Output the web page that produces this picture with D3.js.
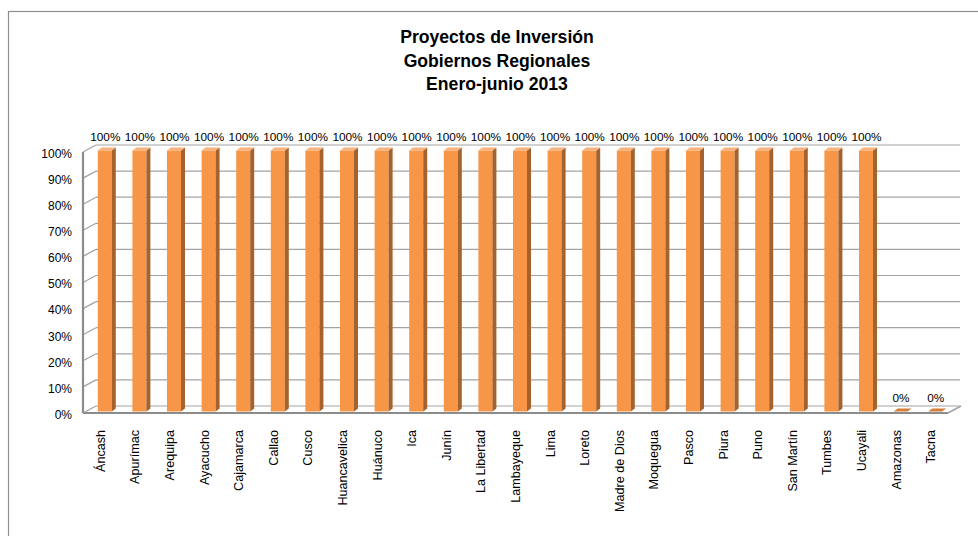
<!DOCTYPE html>
<html>
<head>
<meta charset="utf-8">
<script src="https://cdn.jsdelivr.net/npm/d3@7"></script>
<style>
  html, body { margin: 0; padding: 0; background: #fff; }
  svg { display: block; font-family: "Liberation Sans", Arial, sans-serif; }
</style>
</head>
<body>
<div id="chart"></div>
<script>
// Proyectos de Inversión - Gobiernos Regionales, Enero-junio 2013

const titleLines = ["Proyectos de Inversión", "Gobiernos Regionales", "Enero-junio 2013"];

const categories = [
  "Áncash", "Apurímac", "Arequipa", "Ayacucho", "Cajamarca", "Callao", "Cusco",
  "Huancavelica", "Huánuco", "Ica", "Junín", "La Libertad", "Lambayeque", "Lima",
  "Loreto", "Madre de Dios", "Moquegua", "Pasco", "Piura", "Puno", "San Martín",
  "Tumbes", "Ucayali", "Amazonas", "Tacna"
];

const values = [
  1, 1, 1, 1, 1, 1, 1,
  1, 1, 1, 1, 1, 1, 1,
  1, 1, 1, 1, 1, 1, 1,
  1, 1, 0, 0
];

const yTicks = [0, 0.1, 0.2, 0.3, 0.4, 0.5, 0.6, 0.7, 0.8, 0.9, 1];

const width = 978, height = 536;

// 3D depth offset of the back wall
const depthX = 13, depthY = -7;

const svg = d3.select("#chart").append("svg")
  .attr("width", width)
  .attr("height", height);

// outer chart border (runs off the right/bottom of the view)
svg.append("rect")
  .attr("x", 8.5).attr("y", 11.5)
  .attr("width", 1000).attr("height", 600)
  .attr("fill", "none")
  .attr("stroke", "#8f8f8f")
  .attr("stroke-width", 1.2);

// title
svg.append("text")
  .attr("x", 497)
  .attr("y", 43)
  .attr("text-anchor", "middle")
  .attr("font-weight", "bold")
  .attr("font-size", "17.6px")
  .attr("fill", "#000")
  .selectAll("tspan")
  .data(titleLines)
  .enter().append("tspan")
  .attr("x", 497)
  .attr("dy", (d, i) => i === 0 ? 0 : 23.5)
  .text(d => d);

// scales
const x = d3.scaleBand()
  .domain(categories)
  .range([83, 948]);

const y = d3.scaleLinear()
  .domain([0, 1])
  .range([413, 152]);

const step = x.step();
const left = x.range()[0], right = x.range()[1];

// back wall gridlines
svg.append("g").attr("class", "grid")
  .selectAll("line")
  .data(yTicks)
  .enter().append("line")
  .attr("x1", left + depthX)
  .attr("x2", right + depthX - 1)
  .attr("y1", d => y(d) + depthY)
  .attr("y2", d => y(d) + depthY)
  .attr("stroke", "#a3a3a3")
  .attr("stroke-width", 1.2);

// left wall diagonal gridlines
svg.append("g").attr("class", "wall-grid")
  .selectAll("line")
  .data(yTicks)
  .enter().append("line")
  .attr("x1", left)
  .attr("x2", left + depthX)
  .attr("y1", d => y(d))
  .attr("y2", d => y(d) + depthY)
  .attr("stroke", "#a3a3a3")
  .attr("stroke-width", 1.2);

// left wall front edge and floor edges
svg.append("line")
  .attr("x1", left).attr("x2", left)
  .attr("y1", y(1)).attr("y2", y(0))
  .attr("stroke", "#8c8c8c").attr("stroke-width", 2.2);

svg.append("line")
  .attr("x1", left).attr("x2", right)
  .attr("y1", y(0)).attr("y2", y(0))
  .attr("stroke", "#8c8c8c").attr("stroke-width", 2.2);

svg.append("line")
  .attr("x1", right).attr("x2", right + depthX)
  .attr("y1", y(0)).attr("y2", y(0) + depthY)
  .attr("stroke", "#a3a3a3").attr("stroke-width", 1.6);

// bars (front face, side face, top face)
const barW = 14, sideW = 4, sideH = 3;
const barLift = 1.5; // bars stand slightly back from the front edge

const bars = svg.append("g").attr("class", "bars")
  .selectAll("g")
  .data(categories.map((c, i) => ({ cat: c, value: values[i] })))
  .enter().append("g")
  .attr("transform", d => `translate(${x(d.cat) + step / 2 - 2.5},${-barLift})`);

bars.append("rect")
  .attr("x", 0)
  .attr("y", d => y(d.value))
  .attr("width", barW)
  .attr("height", d => y(0) - y(d.value))
  .attr("fill", "#f79646");

bars.append("path")
  .attr("d", d => {
    const y0 = y(0), y1 = y(d.value);
    return `M${barW},${y1}L${barW + sideW},${y1 - sideH}L${barW + sideW},${y0 - sideH}L${barW},${y0}Z`;
  })
  .attr("fill", "#a6622c");

bars.append("path")
  .attr("d", d => {
    const y1 = y(d.value);
    return `M0,${y1}L${sideW},${y1 - sideH}L${barW + sideW},${y1 - sideH}L${barW},${y1}Z`;
  })
  .attr("fill", d => d.value > 0 ? "#fab078" : "#d47f3c");

// data labels
svg.append("g").attr("class", "data-labels")
  .selectAll("text")
  .data(categories.map((c, i) => ({ cat: c, value: values[i] })))
  .enter().append("text")
  .attr("x", d => x(d.cat) + step / 2 + 5)
  .attr("y", d => y(d.value) - barLift - 10)
  .attr("text-anchor", "middle")
  .attr("font-size", "11.8px")
  .attr("fill", "#000")
  .text(d => d3.format(".0%")(d.value));

// y axis labels
const yAxis = svg.append("g")
  .attr("transform", `translate(${left - 11},1.5)`)
  .call(d3.axisLeft(y)
    .tickValues(yTicks)
    .tickFormat(d3.format(".0%"))
    .tickSize(0)
    .tickPadding(0));

yAxis.select(".domain").remove();
yAxis.selectAll("text")
  .attr("font-family", "Liberation Sans, Arial, sans-serif")
  .attr("font-size", "12px")
  .attr("fill", "#000");

// category labels
const xAxis = svg.append("g")
  .attr("transform", `translate(0,430)`)
  .call(d3.axisBottom(x).tickSize(0).tickPadding(0));

xAxis.select(".domain").remove();
xAxis.selectAll("text")
  .attr("font-family", "Liberation Sans, Arial, sans-serif")
  .attr("font-size", "12.6px")
  .attr("fill", "#000")
  .attr("text-anchor", "end")
  .attr("transform", "rotate(-90)")
  .attr("x", 0)
  .attr("y", 0)
  .attr("dy", "0.35em");
</script>
</body>
</html>
